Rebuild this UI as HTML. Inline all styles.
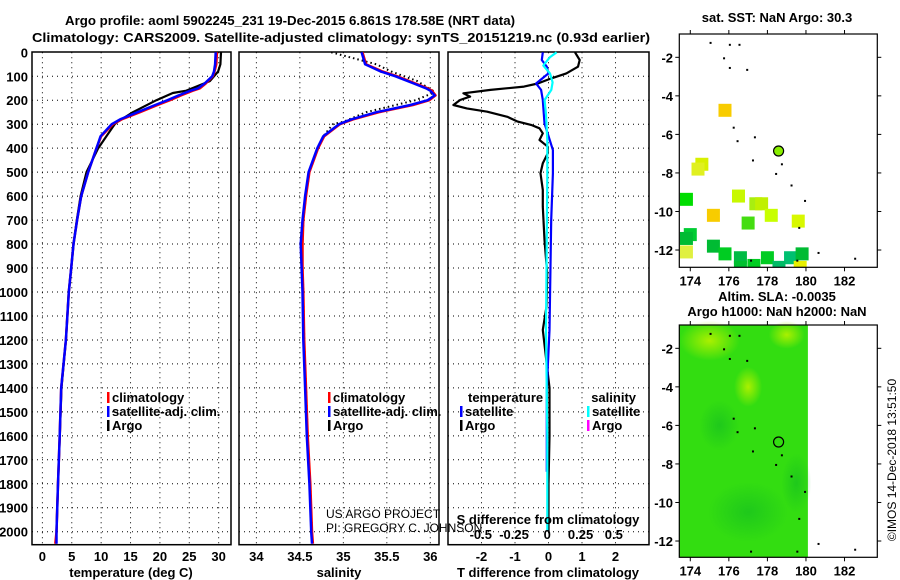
<!DOCTYPE html>
<html><head><meta charset="utf-8">
<style>
html,body{margin:0;padding:0;background:#fff;}
svg{display:block;font-family:"Liberation Sans",Arial,sans-serif;}
.t{font-weight:bold;font-size:13px;fill:#000;}
</style></head>
<body>
<svg id="chart" width="900" height="580" viewBox="0 0 900 580" xmlns="http://www.w3.org/2000/svg">
<text class="t" x="65" y="25" textLength="450" lengthAdjust="spacingAndGlyphs">Argo profile: aoml 5902245_231 19-Dec-2015 6.861S 178.58E (NRT data)</text>
<text class="t" x="32" y="42" textLength="618" lengthAdjust="spacingAndGlyphs">Climatology: CARS2009. Satellite-adjusted climatology: synTS_20151219.nc (0.93d earlier)</text>
<g id="g"></g>
</svg>
<script>
// ---- data ----
const depthsClim = [0,50,80,100,130,150,160,180,200,220,250,280,300,350,400,500,600,700,800,900,1000,1200,1400,1600,1800,2000,2050];
const tempClim   = [29.7,29.6,29.3,29.0,27.8,26.8,25.6,23.6,21.7,19.6,16.6,13.5,12.0,10.0,9.2,7.8,6.6,5.9,5.3,4.9,4.5,4.0,3.2,2.95,2.65,2.4,2.2];
const tempSat    = [29.5,29.4,29.2,28.9,27.6,26.5,25.2,23.2,21.3,19.2,16.2,13.2,11.8,9.9,9.2,7.8,6.6,5.9,5.3,4.9,4.5,4.0,3.2,2.95,2.65,2.4,2.4];
const salClim    = [35.22,35.26,35.45,35.62,35.83,35.97,36.02,36.06,35.99,35.8,35.41,35.11,34.96,34.78,34.71,34.61,34.57,34.54,34.53,34.53,34.54,34.55,34.57,34.59,34.62,34.64,34.65];
const salSat     = [35.21,35.25,35.43,35.6,35.81,35.95,36.0,36.05,35.97,35.77,35.38,35.09,34.95,34.77,34.7,34.6,34.56,34.53,34.51,34.52,34.53,34.54,34.56,34.58,34.61,34.63,34.64];
const depthsArgo = [0,50,80,120,160,170,200,250,290,300,350,400,500,600,700,800,900,1000,1200,1400,1600,1800,2000];
const tempArgo   = [30.4,30.3,29.9,28.5,24.5,22.2,19.4,15.4,12.8,12.3,10.9,9.5,7.5,6.5,5.85,5.3,4.9,4.5,4.0,3.25,2.97,2.65,2.4];
const salArgo    = [34.86,35.38,35.55,35.85,36.03,36.03,35.83,35.26,35.0,34.88,34.77,34.71,34.61,34.57,34.54,34.53,34.53,34.54,34.55,34.57,34.59,34.62,34.64];
const depthsDiff = [0,32,60,88,109,130,143,157,171,185,199,220,234,248,269,289,303,317,338,366,394,421,463,505,574,644,783,922,1061,1158,1400,1600,1800,2000];
const tDiffArgo  = [0.79,0.93,0.88,0.53,0.08,-0.32,-0.73,-1.73,-2.54,-2.34,-2.64,-2.84,-2.44,-1.83,-1.23,-0.92,-0.52,-0.27,-0.17,-0.27,-0.02,-0.02,-0.17,-0.24,-0.17,-0.17,-0.12,-0.04,-0.06,-0.17,0.03,0.03,0.0,0.0];
const depthsSatT = [0,32,60,88,130,157,199,296,408,505,700,1158,1400,1750];
const tDiffSat   = [-0.17,-0.2,-0.05,0,-0.37,-0.22,-0.17,-0.12,0.13,0.13,0.08,0.03,-0.05,-0.05];
const depthsSatS = [0,20,55,88,125,157,199,260,366,505,1158,1600,1995];
const sDiffSat   = [0.07,0.02,-0.03,0.02,0.04,0.03,-0.02,-0.01,0.0,0.0,-0.01,0.0,0.0];
const depthTicks = [0,100,200,300,400,500,600,700,800,900,1000,1100,1200,1300,1400,1500,1600,1700,1800,1900,2000];
const tempTicks  = [0,5,10,15,20,25,30];
const salTicks   = [34,34.5,35,35.5,36];
const salTickLabels = ["34","34.5","35","35.5","36"];
const tdTicks    = [-2,-1,0,1,2];
const sdTicks    = [-0.5,-0.25,0,0.25,0.5];
const lonTicks   = [174,176,178,180,182];
const latTicks   = [-2,-4,-6,-8,-10,-12];
const sstLon     = [175.8,174.6,174.4,173.8,175.2,176.5,177.4,177.7,178.2,177.0,179.6,174.0,173.8,173.8,175.2,175.8,176.6,178.0,179.2,179.8,178.6,177.3,176.6,179.7];
const sstLat     = [-4.75,-7.55,-7.8,-9.37,-10.2,-9.2,-9.6,-9.6,-10.2,-10.6,-10.5,-11.2,-11.4,-12.1,-11.8,-12.2,-12.4,-12.4,-12.4,-12.2,-12.9,-12.8,-12.9,-12.9];
const sstColor   = ["#f8cc00","#d8f000","#e0f020","#00dd00","#f8cc00","#c8f800","#a8ee10","#c0f000","#c8ff00","#44dd11","#d8f800","#00cc33","#00bb33","#e0f040","#00bb33","#00cc22","#00bb44","#00cc22","#00c070","#00bb33","#00bb66","#00cc22","#00c030","#e8f000"];
const argoLon = 178.58, argoLat = -6.861;

// ---- helpers ----
const NS="http://www.w3.org/2000/svg";
const G=document.getElementById('g');
function el(tag,attrs,parent){const e=document.createElementNS(NS,tag);for(const k in attrs)e.setAttribute(k,attrs[k]);(parent||G).appendChild(e);return e;}
function txt(x,y,s,anchor,extra){const e=el('text',Object.assign({x:x,y:y,'text-anchor':anchor||'start',class:'t'},extra||{}));e.textContent=s;return e;}
const yTop=52.3, ySc=0.2397, yBot=545;
const yD=d=>yTop+d*ySc;
const p1={x0:32,x1:231,v0:-1.77,v1:32.1};
const p2={x0:239,x1:439,v0:33.8,v1:36.1};
const p3={x0:448,x1:649,v0:-3,v1:3};
const xf=p=>v=>p.x0+(v-p.v0)/(p.v1-p.v0)*(p.x1-p.x0);
const xT=xf(p1), xS=xf(p2), xTD=xf(p3);
const xSD=v=>547.3+v*133;

function panel(p,name,vticks,xfun){
  const r=el('rect',{x:p.x0,y:yTop-0.3,width:p.x1-p.x0,height:yBot-yTop,fill:'#fff',stroke:'#000','stroke-width':1.5});
  
  
  depthTicks.forEach(d=>{if(d===0)return;const l=el('line',{x1:p.x0,x2:p.x1,y1:yD(d),y2:yD(d),stroke:'#000','stroke-dasharray':'1,4'});
    
    });
  vticks.forEach(v=>{const x=xfun(v);const l=el('line',{x1:x,x2:x,y1:yTop,y2:yBot,stroke:'#000','stroke-dasharray':'1,4'});
    
    });
}
function line(xs,ds,xfun,color,w,name,dash){
  const pts=xs.map((v,i)=>xfun(v).toFixed(1)+','+yD(ds[i]).toFixed(1)).join(' ');
  const a={points:pts,fill:'none',stroke:color,'stroke-width':w,'stroke-linejoin':'round'};
  if(dash)a['stroke-dasharray']=dash;
  const e=el('polyline',a);
  
  
}
function legendItem(x,y,color,label,name){
  const r=el('rect',{x:x,y:y-10,width:2.5,height:11,fill:color});
  
  
  const t=txt(x+5,y,label);
  
  
}

// panel 1
panel(p1,'temperature-panel',tempTicks,xT);
depthTicks.forEach(d=>{const t=txt(28,yD(d)+5,String(d),'end');
  
  });
tempTicks.forEach(v=>{const t=txt(xT(v),561,String(v),'middle');
  
  });
let at=txt(131,577,'temperature (deg C)','middle');


line(tempArgo,depthsArgo,xT,'#000',2.2,'argo-temperature-line');
line(tempClim,depthsClim,xT,'#ff0000',2.5,'climatology-temperature-line');
line(tempSat,depthsClim,xT,'#0000ff',2.5,'satellite-temperature-line');
legendItem(107,402,'#ff0000','climatology','legend-climatology');
legendItem(107,416,'#0000ff','satellite-adj. clim.','legend-satellite-adj');
legendItem(107,430,'#000','Argo','legend-argo');

// panel 2
panel(p2,'salinity-panel',salTicks,xS);
salTicks.forEach((v,i)=>{const t=txt(xS(v),561,salTickLabels[i],'middle');
  
  });
at=txt(339,577,'salinity','middle');


line(salArgo,depthsArgo,xS,'#000',2,'argo-salinity-line','1.5,3');
line(salClim,depthsClim,xS,'#ff0000',2.5,'climatology-salinity-line');
line(salSat,depthsClim,xS,'#0000ff',2.5,'satellite-salinity-line');
legendItem(328,402,'#ff0000','climatology','legend-climatology-2');
legendItem(328,416,'#0000ff','satellite-adj. clim.','legend-satellite-adj-2');
legendItem(328,430,'#000','Argo','legend-argo-2');

// panel 3
panel(p3,'difference-panel',tdTicks,xTD);
line(tDiffArgo,depthsDiff,xTD,'#000',2.2,'argo-temperature-difference-line');
line(tDiffSat,depthsSatT,xTD,'#0000ff',2.2,'satellite-temperature-difference-line');
line(sDiffSat,depthsSatS,xSD,'#00ffff',2.2,'satellite-salinity-difference-line');
tdTicks.forEach(v=>{const t=txt(xTD(v),561,String(v),'middle');
  
  });
sdTicks.forEach(v=>{const t=txt(xSD(v),539,String(v),'middle');
  
  });
at=txt(548,577,'T difference from climatology','middle');


at=txt(548,524,'S difference from climatology','middle');


at=txt(468,402,'temperature');


at=txt(636,402,'salinity','end');


legendItem(460,416,'#0000ff','satellite','legend-t-satellite');
legendItem(460,430,'#000','Argo','legend-t-argo');
legendItem(587,416,'#00ffff','satellite','legend-s-satellite');
legendItem(587,430,'#ff00ff','Argo','legend-s-argo');

// credits drawn on top of panels
let w1=txt(326,518,'US ARGO PROJECT','start',{style:'font-weight:normal;font-size:12px',fill:'#222'});


let w2=txt(326,532,'PI: GREGORY C. JOHNSON','start',{style:'font-weight:normal;font-size:12px',fill:'#222'});



// maps
const mLon0=173.43,mLon1=183.7,mx0=679.3,mx1=877.3;
const xL=lon=>mx0+(lon-mLon0)/(mLon1-mLon0)*(mx1-mx0);
function mapFrame(y0,y1,lat0,name){
  const yL=lat=>y0+(lat0-lat)*19.27;
  const r=el('rect',{x:mx0,y:y0,width:mx1-mx0,height:y1-y0,fill:'none',stroke:'#000','stroke-width':1.2});
  
  
  lonTicks.forEach(v=>{el('line',{x1:xL(v),x2:xL(v),y1:y0,y2:y0-4,stroke:'#000'});el('line',{x1:xL(v),x2:xL(v),y1:y1,y2:y1+4,stroke:'#000'});
    const t=txt(xL(v),y1+18,String(v),'middle');
    
    });
  latTicks.forEach(v=>{el('line',{x1:mx0,x2:mx0-4,y1:yL(v),y2:yL(v),stroke:'#000'});el('line',{x1:mx1,x2:mx1+4,y1:yL(v),y2:yL(v),stroke:'#000'});
    const t=txt(673,yL(v)+5,String(v),'end');
    
    });
  return yL;
}
// top SST map
const yA=lat=>34+(-0.79-lat)*19.27;
sstLon.forEach((lon,i)=>{const s=el('rect',{x:xL(lon)-6.5,y:yA(sstLat[i])-6.5,width:13,height:13,fill:sstColor[i]});
  
  });
el('rect',{x:mx0,y:267.5,width:200,height:10,fill:'#fff'});
mapFrame(34,267.3,-0.79,'sst-map');
let c=el('circle',{cx:xL(argoLon),cy:yA(argoLat),r:5,fill:'#88ee00',stroke:'#000','stroke-width':1.2});


at=txt(777,22,'sat. SST: NaN Argo: 30.3','middle');



// bottom SLA map
const yB=lat=>325+(-0.79-lat)*19.27;
const defs=el('defs',{});
defs.innerHTML='<radialGradient id="b1"><stop offset="0" stop-color="#aaf000"/><stop offset="1" stop-color="#aaf000" stop-opacity="0"/></radialGradient><radialGradient id="b2"><stop offset="0" stop-color="#11bb22"/><stop offset="1" stop-color="#11bb22" stop-opacity="0"/></radialGradient>';
let f=el('rect',{x:mx0,y:325,width:xL(180.1)-mx0,height:232,fill:'#33dd11'});


[[175,-1.6,30,20],[179,-1.3,18,14],[177,-4,14,20]].forEach(b=>el('ellipse',{cx:xL(b[0]),cy:yB(b[1]),rx:b[2],ry:b[3],fill:'url(#b1)'}));
[[177,-10.5,40,30],[179.5,-9,15,30],[175.5,-6,20,25]].forEach(b=>el('ellipse',{cx:xL(b[0]),cy:yB(b[1]),rx:b[2],ry:b[3],fill:'url(#b2)','opacity':0.6}));
mapFrame(325,557.3,-0.79,'sla-map');
c=el('circle',{cx:xL(argoLon),cy:yB(argoLat),r:5,fill:'none',stroke:'#000','stroke-width':1.2});


at=txt(777,301,'Altim. SLA: -0.0035','middle');


at=txt(777,316,'Argo h1000: NaN h2000: NaN','middle');


const isl=[[175,-1.2],[176,-1.3],[176.5,-1.3],[175.7,-2],[176,-2.5],[176.9,-2.6],[176.2,-5.6],[177.3,-6.1],[176.4,-6.3],[177.2,-7.3],[178.7,-7.5],[178.4,-8],[179.2,-8.6],[179.9,-9.4],[179.6,-10.8],[180.6,-12.1],[182.5,-12.4],[177.1,-12.5],[179.5,-12.5]];
[yA,yB].forEach(yf=>isl.forEach(p=>{const d=el('rect',{x:xL(p[0]),y:yf(p[1]),width:2,height:2,fill:'#000'});
  
  }));
at=txt(896,460,'©IMOS 14-Dec-2018 13:51:50','middle',{transform:'rotate(-90 896 460)',style:'font-weight:normal;font-size:12px'});


</script>
</body></html>
